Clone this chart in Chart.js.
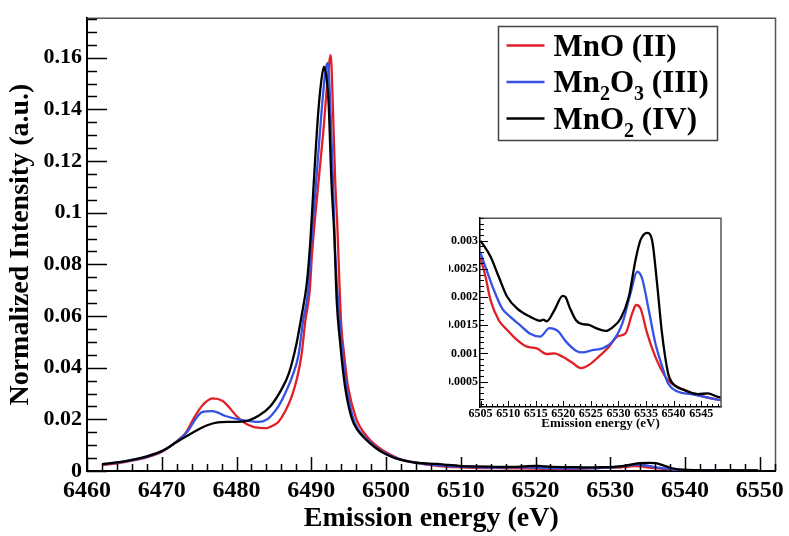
<!DOCTYPE html>
<html lang="en">
<head>
    <meta charset="UTF-8">
    <title>Mn K-beta emission spectra</title>
    <script src="https://cdn.jsdelivr.net/npm/chart.js"></script>
    <style>
        body { margin: 0; background: #fff; }
        #wrap { position: relative; width: 789px; height: 536px; overflow: hidden; }
        #mainChart { position: absolute; left: 0; top: 0; }
        #insetChart { position: absolute; left: 449px; top: 209px; }
    </style>
</head>
<body>
<div id="wrap">
    <canvas id="mainChart" width="789" height="536"></canvas>
    <canvas id="insetChart" width="276" height="225"></canvas>
</div>

<script>
// ---- data ----
const seriesLabels = ['MnO (II)', 'Mn₂O₃ (III)', 'MnO₂ (IV)'];

// main peak region (6462 - 6504 eV)
const mnoE = [6462, 6464, 6466, 6468, 6470, 6472, 6473.2, 6474.3, 6475.4, 6476.8, 6478.1, 6479.2, 6479.9, 6481, 6481.6, 6482.5, 6483.9, 6485, 6485.6, 6486.5, 6487.4, 6488.1, 6488.7, 6489.2, 6489.8, 6490.1, 6490.9, 6491.6, 6492.2, 6492.6, 6492.9, 6493.2, 6493.5, 6493.8, 6494.0, 6494.4, 6494.9, 6496.0, 6497.0, 6498.0, 6499.3, 6500.7, 6502.0, 6503.3, 6504.3];
const mnoI = [0.0023, 0.0030, 0.0040, 0.0053, 0.0075, 0.0115, 0.0147, 0.0205, 0.0253, 0.0281, 0.0272, 0.0240, 0.0216, 0.0188, 0.0178, 0.0169, 0.0166, 0.0178, 0.0190, 0.0230, 0.0290, 0.0360, 0.0450, 0.0580, 0.0700, 0.0840, 0.1100, 0.1310, 0.1520, 0.1610, 0.1400, 0.1125, 0.0940, 0.0700, 0.0570, 0.0450, 0.0330, 0.0203, 0.0150, 0.0116, 0.0085, 0.0062, 0.0045, 0.0036, 0.0031];

const mn2o3E = [6462, 6464, 6466, 6468, 6470, 6472, 6473.5, 6474.5, 6475.4, 6476.8, 6478.5, 6480.8, 6483, 6484, 6484.7, 6485.6, 6486.5, 6487.5, 6488.3, 6488.9, 6489.6, 6489.9, 6490.6, 6491.4, 6491.9, 6492.2, 6492.5, 6492.9, 6493.2, 6493.8, 6494.2, 6494.7, 6495.6, 6496.5, 6497.5, 6498.8, 6500.2, 6501.7, 6503.2, 6504.3];
const mn2o3I = [0.0025, 0.0032, 0.0042, 0.0055, 0.0076, 0.0114, 0.0155, 0.0200, 0.0228, 0.0232, 0.0213, 0.0197, 0.0190, 0.0198, 0.0216, 0.0250, 0.0300, 0.0370, 0.0450, 0.0580, 0.0700, 0.0840, 0.1100, 0.1400, 0.1550, 0.1580, 0.1450, 0.1125, 0.0840, 0.0580, 0.0450, 0.0330, 0.0205, 0.0152, 0.0122, 0.0088, 0.0065, 0.0047, 0.0036, 0.0031];

const mno2E = [6462, 6464, 6466, 6468, 6470, 6472, 6474, 6476, 6477.5, 6479, 6481, 6483, 6484.5, 6486, 6487, 6488, 6488.7, 6489.4, 6489.9, 6490.3, 6490.9, 6491.3, 6491.7, 6492, 6492.3, 6492.7, 6493.1, 6493.4, 6493.8, 6494.5, 6495.4, 6496.2, 6497.1, 6498.5, 6499.8, 6501.3, 6502.9, 6504];
const mno2I = [0.0027, 0.0033, 0.0043, 0.0057, 0.0077, 0.0112, 0.0146, 0.0176, 0.0188, 0.0190, 0.0192, 0.0215, 0.0250, 0.0315, 0.0378, 0.0490, 0.0600, 0.0726, 0.0900, 0.1100, 0.1376, 0.1500, 0.1565, 0.1530, 0.1437, 0.1120, 0.0900, 0.0660, 0.0515, 0.0330, 0.0205, 0.0158, 0.0128, 0.0092, 0.0068, 0.0049, 0.0037, 0.0032];

// satellite region (6505 - 6550 eV)
const mnoTailE = [6505.0, 6505.9, 6506.8, 6508.3, 6509.8, 6511.6, 6513.4, 6515.2, 6517.0, 6518.4, 6519.9, 6521.7, 6523.2, 6524.7, 6526.4, 6528.3, 6529.8, 6531.3, 6532.5, 6533.2, 6534.0, 6535.2, 6536.7, 6538.5, 6539.6, 6542.0, 6544.4, 6548.0, 6549.8];
const mnoTailI = [0.00269, 0.00236, 0.00195, 0.00159, 0.00142, 0.00124, 0.00112, 0.00109, 0.00099, 0.00100, 0.00094, 0.00083, 0.00074, 0.00080, 0.00094, 0.00112, 0.00130, 0.00136, 0.00171, 0.00186, 0.00180, 0.00136, 0.00094, 0.00059, 0.00047, 0.00035, 0.00026, 0.00018, 0.00016];

const mn2o3TailE = [6505.0, 6506.2, 6507.4, 6508.9, 6510.4, 6512.2, 6514.0, 6515.8, 6517.5, 6519.0, 6520.5, 6522.3, 6523.5, 6525.3, 6527.1, 6528.9, 6530.7, 6532.2, 6533.4, 6534.3, 6535.5, 6536.7, 6537.9, 6539.0, 6540.8, 6543.2, 6548.0, 6549.8];
const mn2o3TailI = [0.00278, 0.00245, 0.00213, 0.00180, 0.00165, 0.00150, 0.00135, 0.00130, 0.00145, 0.00140, 0.00121, 0.00105, 0.00102, 0.00106, 0.00109, 0.00121, 0.00153, 0.00207, 0.00245, 0.00233, 0.00177, 0.00118, 0.00078, 0.00047, 0.00032, 0.00028, 0.00018, 0.00016];

const mno2TailE = [6505.0, 6506.8, 6508.3, 6509.8, 6511.6, 6514.0, 6515.8, 6516.4, 6517.0, 6518.4, 6519.9, 6520.4, 6521.1, 6522.3, 6523.5, 6524.5, 6525.9, 6527.7, 6528.9, 6530.4, 6531.9, 6533.1, 6534.0, 6535.2, 6536.1, 6537.0, 6537.9, 6539.0, 6539.6, 6542.0, 6544.4, 6546.2, 6548.0, 6549.8];
const mno2TailI = [0.00300, 0.00272, 0.00236, 0.00201, 0.00180, 0.00165, 0.00158, 0.00160, 0.00157, 0.00177, 0.00202, 0.00200, 0.00183, 0.00159, 0.00152, 0.00151, 0.00145, 0.00140, 0.00146, 0.00162, 0.00201, 0.00266, 0.00301, 0.00314, 0.00301, 0.00225, 0.00136, 0.00065, 0.00050, 0.00035, 0.00028, 0.00029, 0.00023, 0.00020];

// tick labels
const xTicks = [6460, 6470, 6480, 6490, 6500, 6510, 6520, 6530, 6540, 6550];
const yTicks = [0, 0.02, 0.04, 0.06, 0.08, 0.1, 0.12, 0.14, 0.16];
const insetXTicks = [6505, 6510, 6515, 6520, 6525, 6530, 6535, 6540, 6545];
const insetYTicks = [0.0005, 0.001, 0.0015, 0.002, 0.0025, 0.003];

const colors = ['#e31f26', '#3552e4', '#000000'];

Chart.defaults.font.family = "'Liberation Serif', 'Times New Roman', serif";
Chart.defaults.font.weight = 'bold';
Chart.defaults.color = '#000';

function pts(e, v) {
    return e.map((x, i) => ({ x: x, y: v[i] }));
}

// ROOT-like inward ticks + grey frame on top/right
const rootTicks = {
    id: 'rootTicks',
    afterDatasetsDraw(chart, args, o) {
        const { ctx, chartArea: a, scales: { x, y } } = chart;
        ctx.save();
        ctx.strokeStyle = o.frameColor;
        ctx.lineWidth = o.frameWidth;
        ctx.beginPath();
        ctx.moveTo(a.left, a.top);
        ctx.lineTo(a.right, a.top);
        ctx.lineTo(a.right, a.bottom);
        ctx.stroke();

        ctx.strokeStyle = '#000';
        ctx.lineWidth = o.tickWidth;
        ctx.beginPath();
        for (let n = Math.ceil(x.min / o.xMinor - 1e-6); n * o.xMinor <= x.max + 1e-9; n++) {
            const v = n * o.xMinor;
            const r = v / o.xMajor;
            const len = Math.abs(r - Math.round(r)) < 1e-6 ? o.xLen[0] : o.xLen[1];
            const px = Math.round(x.getPixelForValue(v)) + 0.5;
            ctx.moveTo(px, a.bottom);
            ctx.lineTo(px, a.bottom - len);
        }
        for (let n = Math.ceil(y.min / o.yMinor - 1e-6); n * o.yMinor <= y.max + 1e-12; n++) {
            const v = n * o.yMinor;
            const r = v / o.yMajor;
            const len = Math.abs(r - Math.round(r)) < 1e-6 ? o.yLen[0] : o.yLen[1];
            const py = Math.round(y.getPixelForValue(v)) + 0.5;
            ctx.moveTo(a.left, py);
            ctx.lineTo(a.left + len, py);
        }
        ctx.stroke();
        ctx.restore();
    }
};

// boxed legend with real subscripts
const subLegend = {
    id: 'subLegend',
    afterDraw(chart, args, o) {
        if (!o.show) return;
        const ctx = chart.ctx;
        const subs = { '₀': '0', '₁': '1', '₂': '2', '₃': '3', '₄': '4' };
        ctx.save();
        ctx.fillStyle = '#fff';
        ctx.fillRect(o.x, o.y, o.w, o.h);
        ctx.strokeStyle = '#444';
        ctx.lineWidth = 1.5;
        ctx.strokeRect(o.x, o.y, o.w, o.h);
        chart.data.datasets.forEach((ds, i) => {
            const base = o.y + o.first + i * o.step;
            ctx.strokeStyle = ds.borderColor;
            ctx.lineWidth = 2.5;
            ctx.beginPath();
            ctx.moveTo(o.x + 8, base - 10);
            ctx.lineTo(o.x + 46, base - 10);
            ctx.stroke();
            let tx = o.x + 55;
            ctx.fillStyle = '#000';
            ctx.textBaseline = 'alphabetic';
            for (const ch of ds.label) {
                if (subs[ch]) {
                    ctx.font = "bold 20px 'Liberation Serif', serif";
                    ctx.fillText(subs[ch], tx, base + 8);
                    tx += ctx.measureText(subs[ch]).width;
                } else {
                    ctx.font = "bold 31px 'Liberation Serif', serif";
                    ctx.fillText(ch, tx, base);
                    tx += ctx.measureText(ch).width;
                }
            }
        });
        ctx.restore();
    }
};

const lineStyle = { pointRadius: 0, borderWidth: 2.3, cubicInterpolationMode: 'monotone', fill: false };

new Chart(document.getElementById('mainChart'), {
    type: 'line',
    data: {
        datasets: [
            Object.assign({ label: seriesLabels[0], data: pts(mnoE.concat(mnoTailE), mnoI.concat(mnoTailI)), borderColor: colors[0], order: 3 }, lineStyle),
            Object.assign({ label: seriesLabels[1], data: pts(mn2o3E.concat(mn2o3TailE), mn2o3I.concat(mn2o3TailI)), borderColor: colors[1], order: 2 }, lineStyle),
            Object.assign({ label: seriesLabels[2], data: pts(mno2E.concat(mno2TailE), mno2I.concat(mno2TailI)), borderColor: colors[2], order: 1 }, lineStyle)
        ]
    },
    options: {
        responsive: false,
        animation: false,
        layout: { padding: { top: 2, right: 8, left: 0, bottom: 0 } },
        plugins: {
            legend: { display: false },
            tooltip: { enabled: false },
            rootTicks: { frameColor: '#555', frameWidth: 1.5, tickWidth: 1.5, xMajor: 10, xMinor: 2, yMajor: 0.02, yMinor: 0.005, xLen: [14, 7], yLen: [20, 10] },
            subLegend: { show: true, x: 498.5, y: 26.5, w: 219, h: 114, first: 29, step: 36.5 }
        },
        scales: {
            x: {
                type: 'linear', min: 6460, max: 6552.1,
                afterBuildTicks: s => { s.ticks = xTicks.map(v => ({ value: v })); },
                afterFit: s => { s.height = 65; },
                ticks: { callback: v => String(v), font: { size: 24 }, padding: 5, maxRotation: 0, autoSkip: false },
                grid: { display: false, drawTicks: false },
                border: { display: true, color: '#000', width: 2 },
                title: { display: true, text: 'Emission energy (eV)', font: { size: 28 }, padding: { top: 0, bottom: 0 } }
            },
            y: {
                type: 'linear', min: 0, max: 0.1753,
                afterBuildTicks: s => { s.ticks = yTicks.map(v => ({ value: v })); },
                afterFit: s => { s.width = 87; },
                ticks: { callback: v => String(v), font: { size: 22 }, padding: 5, autoSkip: false },
                grid: { display: false, drawTicks: false },
                border: { display: true, color: '#000', width: 2 },
                title: { display: true, text: 'Normalized Intensity (a.u.)', font: { size: 28 }, padding: { top: 4, bottom: 0 } }
            }
        }
    },
    plugins: [rootTicks, subLegend]
});

new Chart(document.getElementById('insetChart'), {
    type: 'line',
    data: {
        datasets: [
            Object.assign({ label: seriesLabels[0], data: pts(mnoTailE, mnoTailI), borderColor: colors[0], order: 3 }, lineStyle),
            Object.assign({ label: seriesLabels[1], data: pts(mn2o3TailE, mn2o3TailI), borderColor: colors[1], order: 2 }, lineStyle),
            Object.assign({ label: seriesLabels[2], data: pts(mno2TailE, mno2TailI), borderColor: colors[2], order: 1 }, lineStyle)
        ]
    },
    options: {
        responsive: false,
        animation: false,
        layout: { padding: { top: 8, right: 4, left: 0, bottom: 0 } },
        plugins: {
            legend: { display: false },
            tooltip: { enabled: false },
            rootTicks: { frameColor: '#555', frameWidth: 1.5, tickWidth: 1, xMajor: 5, xMinor: 1, yMajor: 0.0005, yMinor: 0.0001, xLen: [6, 3], yLen: [8, 4] },
            subLegend: { show: false }
        },
        scales: {
            x: {
                type: 'linear', min: 6504.9, max: 6548.6,
                afterBuildTicks: s => { s.ticks = insetXTicks.map(v => ({ value: v })); },
                afterFit: s => { s.height = 27; },
                ticks: { callback: v => String(v), font: { size: 12 }, padding: 0, maxRotation: 0, autoSkip: false },
                grid: { display: false, drawTicks: false },
                border: { display: true, color: '#000', width: 1.5 },
                title: { display: true, text: 'Emission energy (eV)', font: { size: 13 }, padding: { top: 0, bottom: 3 } }
            },
            y: {
                type: 'linear', min: 0.00005, max: 0.0034,
                afterBuildTicks: s => { s.ticks = insetYTicks.map(v => ({ value: v })); },
                afterFit: s => { s.width = 31; },
                ticks: { callback: v => String(v), font: { size: 12 }, padding: 2, autoSkip: false },
                grid: { display: false, drawTicks: false },
                border: { display: true, color: '#000', width: 1.5 }
            }
        }
    },
    plugins: [rootTicks, subLegend]
});
</script>
</body>
</html>
